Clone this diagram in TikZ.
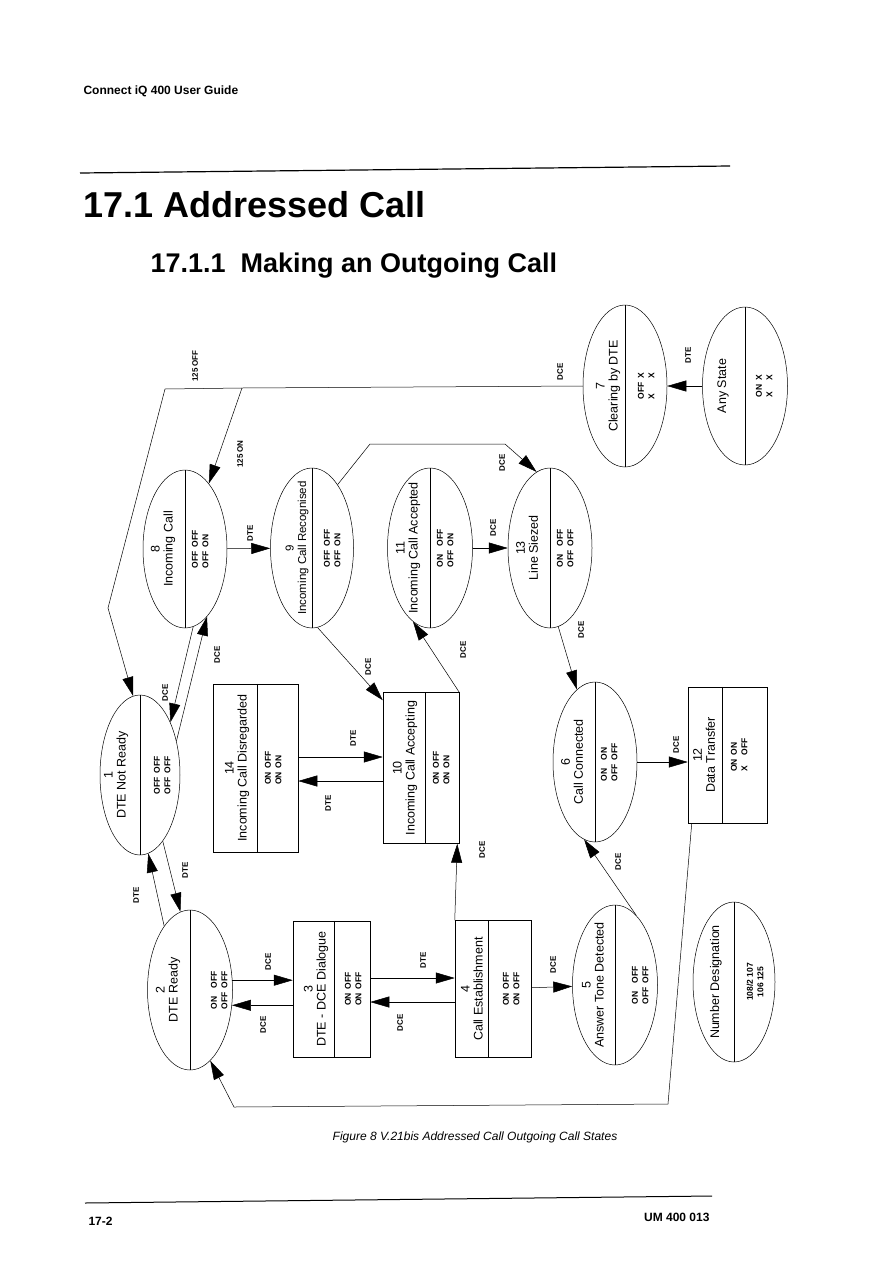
\documentclass[tikz,border=0pt]{standalone}
\usepackage{fontspec}
\setmainfont{Liberation Sans}
\usetikzlibrary{arrows.meta,shapes.geometric,calc}
\tikzset{
  stateell/.style={ellipse,draw,line width=0.5pt,inner sep=0pt},
  statebox/.style={rectangle,draw,line width=0.5pt,inner sep=0pt},
  stitle/.style={rotate=90,align=center,inner sep=0pt,font=\fontsize{12.5}{13}\selectfont},
  sval/.style={rotate=90,inner sep=0pt,font=\bfseries\fontsize{8.5}{10.5}\selectfont},
  tlabel/.style={rotate=90,inner sep=0pt,font=\bfseries\fontsize{8}{9}\selectfont},
  tr/.style={-{Triangle[length=19pt,width=11pt]},line width=0.5pt},
}
\newcommand{\vals}[4]{\begin{tabular}{@{}l@{\hspace{4pt}}l@{}}#1&#2\\#3&#4\end{tabular}}

\begin{document}
\begin{tikzpicture}[x=1pt,y=-1pt]
\useasboundingbox (0,0) rectangle (891,1269);

% page head and foot
\node[anchor=base west,font=\bfseries\fontsize{12}{14}\selectfont] (head) at (80,94) {Connect iQ 400 User Guide};
\draw[line width=1.2pt] (80,173) -- (730,166);
\node[anchor=base west,font=\bfseries\fontsize{36}{40}\selectfont] (sec) at (80,217) {17.1 Addressed Call};
\node[anchor=base west,font=\bfseries\fontsize{27}{30}\selectfont] (subsec) at (147,272) {17.1.1\ \ Making an Outgoing Call};
\node[font=\itshape\fontsize{12}{14}\selectfont] (caption) at (475,1137) {Figure 8 V.21bis Addressed Call Outgoing Call States};
\draw[line width=1pt] (85,1203) -- (712,1196);
\node[anchor=base west,font=\bfseries\fontsize{12}{14}\selectfont] (pageno) at (85,1225) {17-2};
\node[anchor=base east,font=\bfseries\fontsize{12}{14}\selectfont] (docno) at (713,1221) {UM 400 013};

% states
\node[stateell,minimum width=80pt,minimum height=160pt] (n1) at (140,775) {};
\node[stateell,minimum width=85pt,minimum height=160pt] (n2) at (190,990) {};
\node[statebox,minimum width=77pt,minimum height=136pt] (n3) at (331.5,989) {};
\node[statebox,minimum width=76pt,minimum height=137pt] (n4) at (493,989) {};
\node[stateell,minimum width=85pt,minimum height=160pt] (n5) at (615,985) {};
\node[stateell,minimum width=84pt,minimum height=160pt] (n6) at (595,762) {};
\node[stateell,minimum width=84pt,minimum height=162pt] (n7) at (625,386) {};
\node[stateell,minimum width=84pt,minimum height=158pt] (n8) at (185,549) {};
\node[stateell,minimum width=83pt,minimum height=160pt] (n9) at (312,548) {};
\node[statebox,minimum width=76pt,minimum height=151pt] (n10) at (421,768) {};
\node[stateell,minimum width=85pt,minimum height=160pt] (n11) at (430,548) {};
\node[statebox,minimum width=79pt,minimum height=136pt] (n12) at (727.5,755) {};
\node[stateell,minimum width=84pt,minimum height=160pt] (n13) at (550,548) {};
\node[statebox,minimum width=85pt,minimum height=168pt] (n14) at (255.5,768) {};
\node[stateell,minimum width=85pt,minimum height=158pt] (nany) at (745,386) {};
\node[stateell,minimum width=82pt,minimum height=160pt] (nnum) at (734,982) {};

% dividers
\foreach \s in {n1,n2,n5,n6,n7,n8,n9,n11,n13,nany,nnum}
  \draw[line width=0.4pt] (\s.north) -- (\s.south);
\draw[line width=0.4pt] ($(n3.north)+(2.5,0)$) -- ($(n3.south)+(2.5,0)$);
\draw[line width=0.4pt] ($(n4.north)+(-5,0)$) -- ($(n4.south)+(-5,0)$);
\draw[line width=0.4pt] ($(n10.north)+(4,0)$) -- ($(n10.south)+(4,0)$);
\draw[line width=0.4pt] ($(n12.north)+(-5.5,0)$) -- ($(n12.south)+(-5.5,0)$);
\draw[line width=0.4pt] ($(n14.north)+(1.5,0)$) -- ($(n14.south)+(1.5,0)$);

% state texts
\node[stitle] (n1t) at (116,775) {1\\DTE Not Ready};
\node[sval] (n1v) at (163,775) {\vals{OFF}{OFF}{OFF}{OFF}};
\node[stitle] (n2t) at (168,990) {2\\DTE Ready};
\node[sval] (n2v) at (220,990) {\vals{ON}{OFF}{OFF}{OFF}};
\node[stitle] (n3t) at (316,989) {3\\DTE - DCE Dialogue};
\node[sval] (n3v) at (354,989) {\vals{ON}{OFF}{ON}{OFF}};
\node[stitle] (n4t) at (472,989) {4\\Call Establishment};
\node[sval] (n4v) at (512,989) {\vals{ON}{OFF}{ON}{OFF}};
\node[stitle] (n5t) at (593,985) {5\\Answer Tone Detected};
\node[sval] (n5v) at (641,985) {\vals{ON}{OFF}{OFF}{OFF}};
\node[stitle] (n6t) at (572,762) {6\\Call Connected};
\node[sval] (n6v) at (610,762) {\vals{ON}{ON}{OFF}{OFF}};
\node[stitle] (n7t) at (608,386) {7\\Clearing by DTE};
\node[sval] (n7v) at (647,386) {\vals{OFF}{X}{X}{X}};
\node[stitle] (n8t) at (163,549) {8\\Incoming Call};
\node[sval] (n8v) at (201,549) {\vals{OFF}{OFF}{OFF}{ON}};
\node[stitle,font=\fontsize{11.5}{12.5}\selectfont] (n9t) at (297,548) {9\\Incoming Call Recognised};
\node[sval] (n9v) at (333,548) {\vals{OFF}{OFF}{OFF}{ON}};
\node[stitle] (n10t) at (405,768) {10\\Incoming Call Accepting};
\node[sval] (n10v) at (442,768) {\vals{ON}{OFF}{ON}{ON}};
\node[stitle] (n11t) at (408,548) {11\\Incoming Call Accepted};
\node[sval] (n11v) at (446,548) {\vals{ON}{OFF}{OFF}{ON}};
\node[stitle] (n12t) at (704,755) {12\\Data Transfer};
\node[sval] (n12v) at (740,755) {\vals{ON}{ON}{X}{OFF}};
\node[stitle] (n13t) at (527,548) {13\\Line Siezed};
\node[sval] (n13v) at (566,548) {\vals{ON}{OFF}{OFF}{OFF}};
\node[stitle] (n14t) at (237,768) {14\\Incoming Call Disregarded};
\node[sval] (n14v) at (274,768) {\vals{ON}{OFF}{ON}{ON}};
\node[stitle] (nanyt) at (723,386) {Any State};
\node[sval] (nanyv) at (765,386) {\vals{ON}{X}{X}{X}};
\node[stitle] (nnumt) at (716,982) {Number Designation};
\node[sval,align=center] (nnumv) at (755,982) {108/2 107\\106 125};

% junctions
\coordinate (j1) at (242,388);
\coordinate (j0) at (165,389);
\coordinate (k0) at (108,608);
\coordinate (b1) at (370,444);
\coordinate (b2) at (505,444);
\coordinate (c1) at (668,1104);
\coordinate (c2) at (234,1107);

% transitions
\draw[tr] (nany) -- (n7);
\draw[tr] (n7.west) -- (j1) -- (j0) -- (k0) -- (n1.95);
\draw[tr] (j1) -- (n8.70);
\draw[tr] (n8) -- (n9);
\draw[tr] (n9.68) -- (b1) -- (b2) -- (n13.100);
\draw[tr] (n11) -- (n13);
\draw[tr] (n13.-84) -- (n6.104);
\draw[tr] (n6.east) -- (n12.west |- n6.east);
\draw[tr] ([xshift=4pt]n12.south west) -- (c1) -- (c2) -- (n2.-74);
\draw[tr] (n8.-84) -- (n1.60);
\draw[tr] (n1.43) -- (n8.-72);
\draw[tr] (n2.112) -- (n1.-84);
\draw[tr] (n1.-71) -- (n2.97);
\draw[tr] (n2.13) -- (n3.west |- n2.13);
\draw[tr] (n3.west |- n2.-20) -- (n2.-20);
\draw[tr] ([yshift=11pt]n3.east) -- ([yshift=11pt]n4.west);
\draw[tr] ([yshift=-13pt]n4.west) -- ([yshift=-13pt]n3.east);
\draw[tr] (n4) -- (n5);
\draw[tr] (n5.73) -- (n6.-98);
\draw[tr] (n4.north west) -- ([xshift=-2pt]n10.south east);
\draw[tr] (n9.-86) -- ([yshift=-8pt]n10.north west);
\draw[tr] (n10.north east) -- (n11.-103);
\draw[tr] ([yshift=11pt]n14.east) -- ([yshift=11pt]n10.west);
\draw[tr] ([yshift=-13pt]n10.west) -- ([yshift=-13pt]n14.east);

% transition labels
\node[tlabel] (l1) at (688,355) {DTE};
\node[tlabel] (l2) at (560,372) {DCE};
\node[tlabel] (l3) at (195,366) {125 OFF};
\node[tlabel] (l4) at (240,454) {125 ON};
\node[tlabel] (l5) at (250,533) {DTE};
\node[tlabel] (l6) at (502,463) {DCE};
\node[tlabel] (l7) at (493,528) {DCE};
\node[tlabel] (l8) at (581,630) {DCE};
\node[tlabel] (l9) at (676,745) {DCE};
\node[tlabel] (l10) at (165,693) {DCE};
\node[tlabel] (l11) at (217,655) {DCE};
\node[tlabel] (l12) at (368,667) {DCE};
\node[tlabel] (l13) at (463,650) {DCE};
\node[tlabel] (l14) at (353,738) {DTE};
\node[tlabel] (l15) at (328,803) {DTE};
\node[tlabel] (l16) at (136,895) {DTE};
\node[tlabel] (l17) at (185,870) {DTE};
\node[tlabel] (l18) at (268,962) {DCE};
\node[tlabel] (l19) at (263,1025) {DCE};
\node[tlabel] (l20) at (423,960) {DTE};
\node[tlabel] (l21) at (400,1023) {DCE};
\node[tlabel] (l22) at (482,850) {DCE};
\node[tlabel] (l23) at (553,965) {DCE};
\node[tlabel] (l24) at (618,862) {DCE};
\end{tikzpicture}
\end{document}
